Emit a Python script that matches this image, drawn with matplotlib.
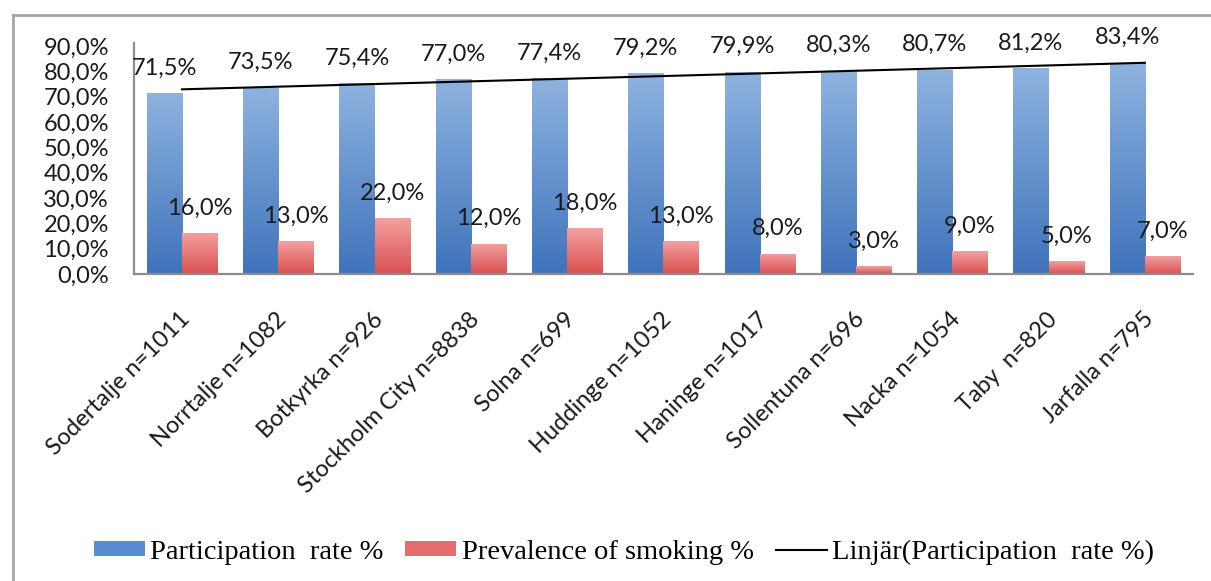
import numpy as np
import matplotlib
matplotlib.use("Agg")
import matplotlib.pyplot as plt
from matplotlib.lines import Line2D
from matplotlib.patches import Patch
from matplotlib.colors import LinearSegmentedColormap
import matplotlib.transforms as mtransforms

categories = ["Sodertalje n=1011", "Norrtalje n=1082", "Botkyrka n=926",
              "Stockholm City n=8838", "Solna n=699", "Huddinge n=1052",
              "Haninge n=1017", "Sollentuna n=696", "Nacka n=1054",
              "Taby  n=820", "Jarfalla n=795"]
participation = [71.5, 73.5, 75.4, 77.0, 77.4, 79.2, 79.9, 80.3, 80.7, 81.2, 83.4]
smoking = [16.0, 13.0, 22.0, 12.0, 18.0, 13.0, 8.0, 3.0, 9.0, 5.0, 7.0]
yticks = [0, 10, 20, 30, 40, 50, 60, 70, 80, 90]

W, H = 1211, 581
fig = plt.figure(figsize=(W / 100, H / 100), dpi=100)
ax = fig.add_axes([133.8 / W, 1 - 274 / H, (1193 - 133.8) / W, (274 - 46) / H])

LABEL_FONT = "Lato"
LEG_FONT = "Liberation Serif"
FS = 17

x = np.arange(len(categories))
bw = 0.365
b1 = ax.bar(x - bw / 2, participation, width=bw, color="#5B8BD0", zorder=2)
b2 = ax.bar(x + bw / 2, smoking, width=bw, color="#E46C6C", zorder=2)

blue_cmap = LinearSegmentedColormap.from_list("b", ["#3F73BB", "#8EB3DF"])
red_cmap = LinearSegmentedColormap.from_list("r", ["#D95050", "#F4A0A0"])
grad = np.linspace(0, 1, 256).reshape(-1, 1)
for bars, cmap in ((b1, blue_cmap), (b2, red_cmap)):
    for p in bars:
        x0, y0 = p.get_x(), p.get_y()
        w, h = p.get_width(), p.get_height()
        im = ax.imshow(grad, cmap=cmap, origin="lower", aspect="auto",
                       extent=(x0, x0 + w, y0, y0 + h), zorder=2.1)
        im.set_clip_path(p)
        p.set_facecolor("none")
        p.set_edgecolor("none")

# linear trend of participation
coef = np.polyfit(x, participation, 1)
trend = np.polyval(coef, x)
ax.plot(x, trend, color="black", lw=1.5, zorder=3)

for xi, v in zip(x, participation):
    ax.annotate(f"{v:.1f}%".replace(".", ","), (xi - bw / 2, v), xytext=(0, 18),
                textcoords="offset points", ha="center", va="center",
                fontsize=FS, family=LABEL_FONT, color="#1a1a1a", zorder=4)
for xi, v in zip(x, smoking):
    ax.annotate(f"{v:.1f}%".replace(".", ","), (xi + bw / 2, v), xytext=(0, 18),
                textcoords="offset points", ha="center", va="center",
                fontsize=FS, family=LABEL_FONT, color="#1a1a1a", zorder=4)

ax.set_xlim(-0.5, len(categories) - 0.5)
ax.set_ylim(0, 90)
ax.set_yticks(yticks)
ax.set_yticklabels([f"{t:.1f}%".replace(".", ",") for t in yticks],
                   fontsize=FS, family=LABEL_FONT, color="#1a1a1a")
ax.tick_params(axis="y", length=0, pad=18)
ax.set_xticks([])
for s in ("top", "right"):
    ax.spines[s].set_visible(False)
for s in ("left", "bottom"):
    ax.spines[s].set_color("#8C8C8C")
    ax.spines[s].set_linewidth(1.6)
ax.spines["left"].set_bounds(0, 91)

# rotated category labels
trans = ax.get_xaxis_transform() + mtransforms.ScaledTranslation(5 / 100, -42 / 100, fig.dpi_scale_trans)
for xi, c in zip(x, categories):
    ax.text(xi, 0, c, transform=trans, rotation=45, ha="right", va="center",
            rotation_mode="anchor", fontsize=FS, family=LABEL_FONT, color="#1a1a1a")

# outer frame (top and left edges visible)
fig.add_artist(Line2D([13 / W, 13 / W], [0, 1 - 15 / H], transform=fig.transFigure,
                      color="#A6A6A6", lw=2))
fig.add_artist(Line2D([13 / W, 1], [1 - 15 / H, 1 - 15 / H], transform=fig.transFigure,
                      color="#A6A6A6", lw=2))

handles = [Patch(facecolor="#5B8BD0", edgecolor="none"),
           Patch(facecolor="#E46C6C", edgecolor="none"),
           Line2D([], [], color="black", lw=1.5)]
labels = ["Participation  rate %", "Prevalence of smoking %", "Linjär(Participation  rate %)"]
fig.legend(handles, labels, loc="center", bbox_to_anchor=(624 / W, 1 - 552 / H), ncol=3,
           frameon=False, prop={"family": LEG_FONT, "size": 20.5},
           handlelength=1.8, handleheight=0.45, handletextpad=0.2, columnspacing=0.75)

fig.savefig("out.png", dpi=100)
